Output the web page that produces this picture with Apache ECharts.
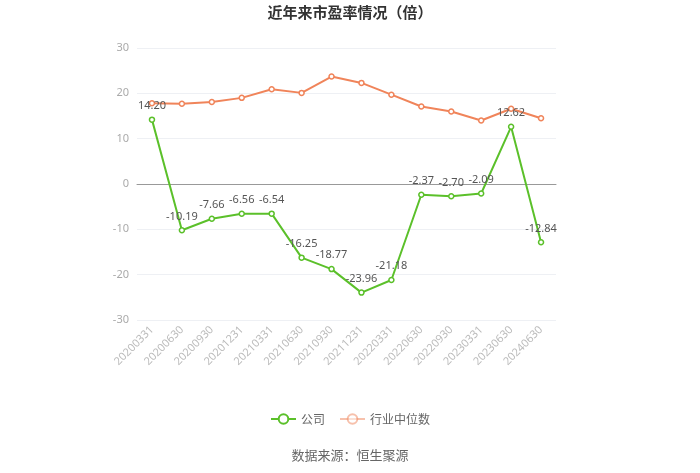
<!DOCTYPE html>
<html><head><meta charset="utf-8">
<script src="https://cdn.jsdelivr.net/npm/echarts@6/dist/echarts.min.js"></script>
<style>html,body{margin:0;padding:0;background:#fff}#c{width:700px;height:473px}</style>
</head><body><div id="c"></div>
<script>
const categories = ['20200331','20200630','20200930','20201231','20210331','20210630','20210930','20211231','20220331','20220630','20220930','20230331','20230630','20240630'];
const companyPE = [14.20,-10.19,-7.66,-6.56,-6.54,-16.25,-18.77,-23.96,-21.18,-2.37,-2.70,-2.09,12.62,-12.84];
const industryPE = [17.8,17.7,18.1,19.0,20.9,20.1,23.7,22.3,19.7,17.1,16.0,14.0,16.6,14.5];
const yTicks = {min:-30, max:30, interval:10};

const chart = echarts.init(document.getElementById('c'));
const green = '#5bc02a', orange = '#f0845a';
chart.setOption({
  animation:false,
  title:{text:'近年来市盈率情况（倍）', left:'center', top:0,
    textStyle:{fontSize:15, fontWeight:'bold', color:'#333', fontFamily:'Noto Sans CJK SC'}},
  graphic:[{type:'text', left:'center', top:449, style:{text:'数据来源：恒生聚源', fontSize:13, fill:'#666', fontFamily:'Noto Sans CJK SC'}}],
  legend:{top:408, left:'center', itemWidth:25, itemHeight:12, itemGap:14,
    textStyle:{color:'#666', fontSize:12, fontFamily:'Noto Sans CJK SC'},
    data:[{name:'公司'},{name:'行业中位数', itemStyle:{opacity:0.5}, lineStyle:{opacity:0.5}}]},
  grid:{left:137, right:144, top:48, bottom:153},
  xAxis:{type:'category', data:categories, boundaryGap:true,
    axisLine:{onZero:true, lineStyle:{color:'#999'}},
    axisTick:{alignWithLabel:true, lineStyle:{color:'#999'}},
    axisLabel:{rotate:45, color:'#bbb', fontSize:11, margin:8, interval:0, fontFamily:'Noto Sans'}},
  yAxis:{type:'value', min:yTicks.min, max:yTicks.max, interval:yTicks.interval,
    axisLine:{show:false}, axisTick:{show:false},
    axisLabel:{color:'#aaa', fontSize:11, fontFamily:'Noto Sans'},
    splitLine:{lineStyle:{color:'#eef0f4'}}},
  series:[
    {name:'公司', type:'line', data:companyPE, z:3, symbol:'circle', symbolSize:5,
      itemStyle:{color:'#fff', borderColor:green, borderWidth:1.5},
      lineStyle:{color:green, width:2},
      label:{show:true, position:'top', color:'#555', fontSize:11, fontFamily:'Noto Sans', formatter:p=>p.value.toFixed(2)}},
    {name:'行业中位数', type:'line', data:industryPE, z:2, symbol:'circle', symbolSize:5,
      itemStyle:{color:'#fff', borderColor:orange, borderWidth:1.5},
      lineStyle:{color:orange, width:2}}
  ]
});
</script></body></html>
